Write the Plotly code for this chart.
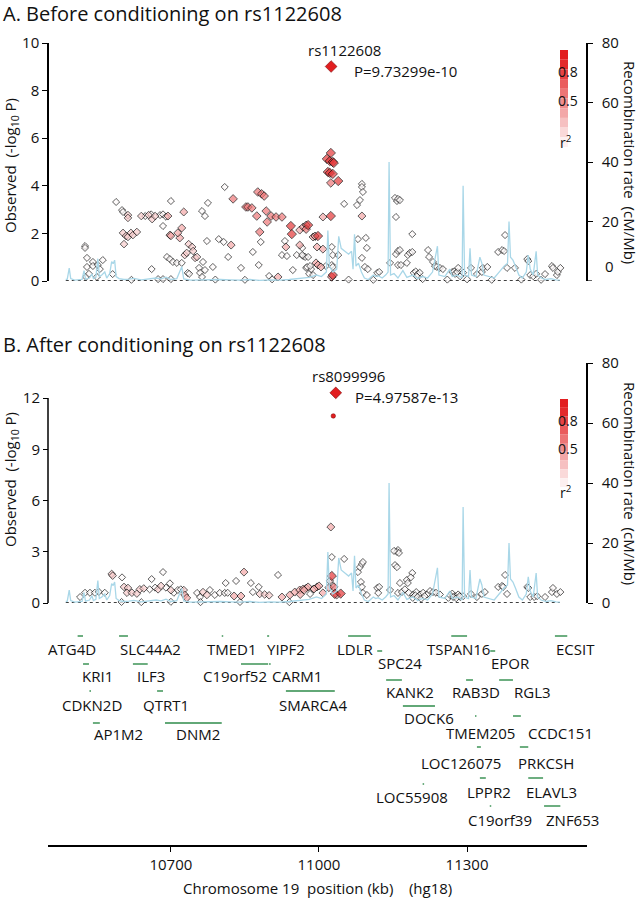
import plotly.graph_objects as go

# ---------------- DATA ----------------
# Panel A: before conditioning (position kb, -log10 P, r2)
A_pos = [10526,10526,10530,10530,10528,10534,10542,10542,10552,10550,10562,10556,10582,10589,10601,10603,10605,10613,10613,10603,
         10609,10613,10619,10623,10631,10640,10648,10655,10662,10660,10668,10678,10684,10690,10684,10700,10694,10698,10700,10718,
         10714,10722,10726,10736,10743,10745,10728,10732,10749,10753,10692,10698,10704,10712,10722,10661,10674,10684,10734,10737,
         10757,10759,10763,10769,10763,10769,10775,10773,10765,10785,10797,10807,10809,10816,10822,10826,10842,10852,10856,10864,
         10866,10874,10876,10884,10889,10880,10882,10878,10893,10895,10903,10913,10925,10899,10917,10931,10933,10925,10935,10943,
         10945,10947,10955,10966,10968,10972,10974,10978,10974,10980,10984,10988,10992,10996,10998,10994,10998,
         10961,10968,10974,10961,10966,10978,10988,10992,11008,10976,10982,11004,11014,11008,
         11024,11016,11022,11028,11030,11018,11022,11028,11024,11039,11024,11026,11028,11039,11026,11028,11028,11026,
         11051,11077,11083,11087,11087,11089,11087,11079,11095,11097,11087,11093,11099,11118,11122,11144,11154,11158,11160,11164,
         11156,11156,11160,11164,11160,11166,11189,11180,11184,11189,11178,11192,11196,11200,11204,11198,11221,11223,11231,11235,
         11239,11245,11251,11270,11274,11276,11280,11282,11286,11292,11308,11320,11330,11332,11341,11363,11371,11375,11377,11381,
         11397,11422,11424,11428,11434,11440,11458,11472,11474,11482,11484,11489,
         10620,10700,10790,10850,10905,11060,11110,11210,11260,11300,11350,11410,11450]
A_logp = [1.47,1.39,0.97,0.59,0.17,0.30,0.80,0.63,0.67,0.17,0.88,0.50,0.29,3.32,2.98,2.90,1.55,2.77,2.65,2.02,
          1.89,1.85,2.02,1.93,2.06,2.73,2.73,2.77,2.60,2.80,2.73,2.77,2.80,2.70,2.31,3.36,2.73,1.93,1.90,1.81,
          2.02,2.23,2.90,1.55,1.43,1.26,1.09,1.18,0.97,1.01,1.01,0.92,0.80,0.76,0.76,0.50,0.08,0.08,0.34,0.30,
          0.55,0.34,0.17,0.46,2.94,2.73,3.28,1.68,0.80,0.59,1.76,1.64,3.95,1.01,1.51,3.45,0.55,3.11,3.11,3.07,
          1.22,2.73,3.74,3.66,3.57,2.06,1.64,0.67,2.94,2.48,2.73,2.69,2.69,0.21,0.17,1.68,1.43,1.09,1.05,2.31,
          1.97,0.46,1.09,1.39,1.05,1.01,2.18,2.35,0.55,0.30,0.50,0.25,1.85,1.43,1.89,0.76,0.67,
          2.14,2.27,2.35,1.51,1.09,1.01,1.85,1.89,1.34,0.59,0.63,0.59,0.63,2.69,
          5.38,5.13,5.04,5.00,4.96,4.58,4.54,4.50,4.12,4.20,2.73,1.43,1.09,1.09,0.67,0.59,0.25,0.17,
          3.24,3.19,3.40,4.08,3.95,3.74,2.73,1.76,1.81,1.39,0.97,0.59,0.50,0.34,0.38,0.76,3.49,3.36,3.45,3.40,
          2.69,1.13,1.26,1.30,0.67,0.67,1.97,1.09,1.18,1.22,0.76,0.34,0.40,0.29,0.35,0.20,1.30,1.01,0.80,0.63,
          0.59,0.55,0.50,0.38,0.40,0.30,0.38,0.55,0.20,0.35,0.55,0.29,0.38,0.55,0.59,1.22,1.30,1.26,1.93,0.55,
          0.55,0.92,0.84,0.25,0.20,0.30,0.29,0.63,0.55,0.25,0.38,0.55,
          0.05,0.08,0.06,0.05,0.07,0.06,0.05,0.08,0.06,0.07,0.05,0.06,0.05]
A_r2 = [0.02,0.02,0.02,0.02,0.02,0.02,0.02,0.02,0.02,0.02,0.02,0.02,0.02,0.02,0.02,0.02,0.2,0.2,0.2,0.2,
        0.2,0.2,0.2,0.2,0.2,0.2,0.02,0.2,0.2,0.02,0.2,0.02,0.02,0.02,0.02,0.02,0.35,0.35,0.35,0.35,
        0.35,0.35,0.35,0.2,0.2,0.2,0.2,0.2,0.2,0.2,0.02,0.02,0.02,0.02,0.02,0.02,0.02,0.02,0.02,0.02,
        0.02,0.02,0.02,0.02,0.02,0.02,0.02,0.02,0.02,0.02,0.02,0.02,0.02,0.02,0.35,0.55,0.02,0.55,0.55,0.55,
        0.02,0.55,0.55,0.55,0.55,0.55,0.02,0.02,0.55,0.55,0.55,0.55,0.55,0.02,0.35,0.02,0.35,0.02,0.02,0.8,
        0.8,0.02,0.02,0.02,0.02,0.02,0.55,0.8,0.02,0.02,0.02,0.02,0.02,0.35,0.8,0.35,0.35,
        0.35,0.35,0.35,0.35,0.02,0.02,0.35,0.35,0.35,0.02,0.02,0.35,0.02,0.35,
        0.8,0.8,0.8,0.8,0.8,0.8,0.8,0.8,0.55,0.8,0.8,0.02,0.02,0.02,0.02,0.02,0.8,0.55,
        0.02,0.02,0.02,0.02,0.02,0.02,0.35,0.02,0.02,0.02,0.02,0.02,0.02,0.02,0.02,0.02,0.02,0.02,0.02,0.02,
        0.02,0.02,0.02,0.02,0.02,0.02,0.02,0.02,0.02,0.02,0.02,0.02,0.02,0.02,0.02,0.02,0.02,0.02,0.02,0.02,
        0.02,0.02,0.02,0.02,0.02,0.02,0.02,0.02,0.02,0.02,0.02,0.02,0.02,0.02,0.02,0.02,0.02,0.02,0.02,0.02,
        0.02,0.02,0.02,0.02,0.02,0.02,0.02,0.02,0.02,0.02,0.02,0.02,
        0.02,0.02,0.02,0.02,0.02,0.02,0.02,0.02,0.02,0.02,0.02,0.02,0.02]

# Panel B: after conditioning
B_pos = [10516,10526,10536,10546,10554,10566,10580,10582,10601,10605,10613,10611,10621,10631,10637,10645,10657,10661,10668,10674,
         10684,10680,10690,10698,10700,10706,10714,10720,10726,10728,10732,10753,10759,10765,10773,10779,10789,10799,10809,10815,
         10811,10832,10828,10842,10848,10862,10866,10878,10880,10890,10899,10917,10925,10941,10951,10961,10968,10974,10978,10988,
         10996,10962,10970,10982,10990,11000,11008,11020,11024,11026,11026,11022,11026,11030,11032,11036,11044,
         11051,11079,11083,11087,11089,11085,11087,11089,11097,11118,11122,11120,11144,11154,11158,11160,11158,11162,11152,11164,
         11160,11168,11178,11180,11189,11186,11174,11182,11191,11197,11205,11211,11219,11225,11231,11237,11245,11270,11276,11282,
         11286,11292,11308,11320,11330,11336,11363,11371,11377,11373,11381,11422,11424,11428,11436,11442,11458,11472,11474,11482,11489,
         11190,11195,11200,11207,11214,11262,11266,11272,11278,11285,10600,10640,10700,10760,10840,10940]
B_logp = [0.35,0.60,0.60,0.60,0.65,0.60,1.70,1.60,1.50,0.94,0.88,0.60,0.60,0.55,0.80,0.85,0.80,1.40,0.90,0.80,
          1.81,1.00,0.90,1.15,0.75,0.60,0.76,0.80,0.76,0.47,0.30,0.59,0.35,0.64,0.47,0.76,0.47,0.59,0.59,0.60,
          1.17,1.29,0.41,0.41,1.81,1.17,0.64,0.94,0.53,0.50,0.45,1.64,0.35,0.47,0.64,0.76,0.82,0.88,0.94,0.82,
          0.94,0.50,0.75,0.53,0.82,1.00,0.59,0.90,4.45,2.69,1.58,1.29,1.05,0.94,0.53,0.47,0.55,
          2.58,1.81,2.10,2.28,2.40,1.23,0.94,0.59,0.47,0.88,0.94,0.59,0.76,2.22,2.10,3.10,2.99,2.93,3.05,1.17,
          0.59,0.64,1.35,1.17,1.76,1.50,0.80,0.60,0.50,0.64,0.50,0.60,0.50,0.70,0.64,0.60,0.50,0.55,0.40,0.50,
          0.35,0.40,0.53,0.35,0.53,0.64,0.94,1.00,1.64,0.94,0.53,0.94,0.88,0.35,0.35,0.40,0.35,0.64,0.88,0.53,0.64,
          0.30,0.45,0.35,0.25,0.40,0.30,0.45,0.35,0.28,0.40,0.06,0.05,0.07,0.05,0.06,0.05]
B_r2 = [0.02,0.02,0.02,0.02,0.02,0.02,0.2,0.2,0.02,0.2,0.2,0.2,0.2,0.2,0.2,0.2,0.02,0.02,0.02,0.2,
        0.02,0.2,0.02,0.02,0.2,0.02,0.02,0.02,0.2,0.35,0.35,0.02,0.02,0.2,0.2,0.02,0.02,0.02,0.02,0.02,
        0.02,0.02,0.35,0.35,0.35,0.02,0.02,0.02,0.2,0.2,0.2,0.02,0.35,0.35,0.35,0.35,0.35,0.2,0.35,0.02,
        0.35,0.35,0.35,0.02,0.35,0.35,0.35,0.35,0.35,0.02,0.8,0.2,0.02,0.55,0.8,0.35,0.8,
        0.02,0.02,0.02,0.02,0.02,0.02,0.02,0.02,0.02,0.02,0.02,0.02,0.02,0.02,0.02,0.02,0.02,0.02,0.02,0.02,
        0.02,0.02,0.02,0.02,0.02,0.02,0.02,0.02,0.02,0.02,0.02,0.02,0.02,0.02,0.02,0.02,0.02,0.02,0.02,0.02,
        0.02,0.02,0.02,0.02,0.02,0.02,0.02,0.02,0.02,0.02,0.02,0.02,0.02,0.02,0.02,0.02,0.02,0.02,0.02,0.02,0.02,
        0.02,0.02,0.02,0.02,0.02,0.02,0.02,0.02,0.02,0.02,0.02,0.02,0.02,0.02,0.02,0.02]

# Index SNPs
A_index = dict(name="rs1122608", pos=11024.6, logp=9.012, ptext="P=9.73299e-10")
B_index = dict(name="rs8099996", pos=11034, logp=12.303, ptext="P=4.97587e-13")
B_extra = dict(pos=11029, logp=10.95, r2=0.9)

# Recombination rate (cM/Mb)
rec_pos = [10487,10490,10494,10497,10505,10512,10520,10524,10527,10535,10540,10543,10548,10552,10555,10560,10566,10570,10576,10580,
           10583,10586,10589,10595,10605,10615,10625,10640,10655,10670,10680,10690,10700,10712,10722,10726,10740,10760,10780,10800,
           10820,10840,10860,10880,10900,10920,10940,10960,10980,10995,11005,11015,11018,11021,11028,11036,11040,11045,11052,11060,
           11066,11069,11072,11075,11080,11086,11092,11100,11110,11115,11120,11128,11135,11140,11142,11145,11152,11160,11170,11178,
           11190,11200,11210,11220,11230,11240,11243,11255,11265,11270,11280,11290,11292,11295,11303,11306,11309,11318,11326,11330,
           11334,11345,11355,11365,11375,11382,11385,11388,11393,11398,11405,11412,11420,11424,11428,11434,11440,11443,11450,11460,
           11470,11480,11488]
rec_rate = [0.5,0.6,4.3,0.8,0.3,0.4,0.5,3.5,0.6,1.0,2.4,0.8,1.2,7.5,1.5,2.0,3.0,1.0,2.5,6.5,
            5.8,7.0,1.5,0.8,0.5,0.6,0.9,0.4,0.6,1.0,0.7,1.3,0.5,0.8,4.8,0.7,0.3,0.4,0.3,0.5,
            0.4,0.3,0.5,0.2,0.4,0.3,0.5,0.8,1.2,2.0,1.5,3.0,17.0,5.0,3.0,4.0,15.0,11.0,10.0,9.0,
            10.0,4.0,15.7,5.0,6.0,3.0,1.0,0.5,2.0,1.5,1.8,1.0,2.0,3.0,40.0,2.0,2.5,1.0,3.5,1.2,
            2.0,0.8,1.5,1.0,3.0,11.7,2.0,1.5,4.0,1.5,2.0,1.0,32.0,2.0,1.5,11.0,2.0,1.5,8.0,6.0,
            2.0,1.5,1.0,3.0,5.0,6.0,20.0,8.0,7.0,5.0,2.0,1.0,3.0,8.7,4.0,2.0,10.0,2.0,1.0,0.5,
            0.8,0.4,0.3]

# Genes: name, start (kb), end (kb), label centre (kb), track row
gene_name = ["ATG4D","SLC44A2","TMED1","YIPF2","LDLR","TSPAN16","ECSIT","SPC24","EPOR",
             "KRI1","ILF3","C19orf52","CARM1","KANK2","RAB3D","RGL3","CDKN2D","QTRT1","SMARCA4",
             "DOCK6","TMEM205","CCDC151","AP1M2","DNM2","LOC126075","PRKCSH","LPPR2","ELAVL3",
             "LOC55908","C19orf39","ZNF653"]
gene_start = [10511,10595,10803,10895,11059,11268,11478,11118,11347,
              10522,10623,10842,10899,11136,11298,11365,10535,10672,10933,
              11170,11316,11393,10542,10688,11320,11407,11326,11424,
              11210,11346,11456]
gene_end = [10522,10613,10806,10899,11105,11300,11503,11128,11357,
            10534,10653,10897,10902,11168,11312,11393,10538,10684,11032,
            11235,11319,11409,10556,10803,11328,11424,11338,11454,
            11213,11349,11489]
gene_label = [10499,10659,10824,10933,11073,11282,11519,11164,11389,
              10552,10659,10830,10955,11184,11318,11432,10540,10690,10988,
              11223,11328,11490,10593,10755,11288,11460,11345,11472,
              11189,11367,11513]
gene_row = [0,0,0,0,0,0,0,1,1,
            2,2,2,2,3,3,3,4,4,4,
            5,6,6,7,7,8,8,9,9,
            10,11,11]

xticks = [10700, 11000, 11300]
xtick_text = ["10700", "11000", "11300"]

# ---------------- LAYOUT HELPERS (page pixel -> paper) ----------------
FW, FH = 641, 900
def fx(p): return p / FW
def fy(p): return 1 - p / FH

FONT = "Open Sans"
XL, XR = 48, 587           # axis x positions
A_TOP, A_BOT = 43, 281
B_TOP, B_BOT, B_RTOP = 398, 603, 363
G_TOP, G_BOT = 625, 845
row_line_y = [636, 651, 664, 680, 691, 706, 716, 723, 747, 778, 784, 806]
row_label_y = [649, 663, 676, 692, 705, 718, 733, 734, 763, 792, 797, 820]

RED = (226, 30, 32)
CMAX = 0.9
def r2col(v):
    t = min(v / CMAX, 1)
    r = int(255 + (RED[0]-255)*t); g = int(255 + (RED[1]-255)*t); b = int(255 + (RED[2]-255)*t)
    return f"rgb({r},{g},{b})"
CSCALE = [[0, "rgb(255,255,255)"], [1, f"rgb{RED}"]]
REC_COL = "#a9d7e8"

fig = go.Figure()

def add_panel(pos, logp, r2, yax, recax):
    fig.add_trace(go.Scatter(x=rec_pos, y=rec_rate, mode="lines", xaxis="x", yaxis=recax,
                             line=dict(color=REC_COL, width=1.3), hoverinfo="skip", showlegend=False))
    fig.add_trace(go.Scatter(x=[min(rec_pos), max(rec_pos)], y=[0, 0], mode="lines", xaxis="x", yaxis=yax,
                             line=dict(color="black", width=1.3, dash="dot"), showlegend=False))
    order = sorted(range(len(pos)), key=lambda i: r2[i])
    xs = [pos[i] for i in order]; ys = [logp[i] for i in order]; cs = [r2[i] for i in order]
    fig.add_trace(go.Scatter(x=xs, y=ys, mode="markers", xaxis="x", yaxis=yax, cliponaxis=False,
                             marker=dict(symbol="diamond", size=[5.4 + 2.2*c for c in cs], color=cs,
                                         colorscale=CSCALE, cmin=0, cmax=CMAX,
                                         line=dict(color="black", width=0.9)),
                             showlegend=False))

add_panel(A_pos, A_logp, A_r2, "y", "y2")
add_panel(B_pos, B_logp, B_r2, "y3", "y4")

# index SNPs
fig.add_trace(go.Scatter(x=[A_index["pos"]], y=[A_index["logp"]], mode="markers", xaxis="x", yaxis="y",
                         cliponaxis=False, marker=dict(symbol="diamond", size=9, color=f"rgb{RED}",
                         line=dict(color="#7a0000", width=0.6)), showlegend=False))
fig.add_trace(go.Scatter(x=[B_extra["pos"]], y=[B_extra["logp"]], mode="markers", xaxis="x", yaxis="y3",
                         cliponaxis=False, marker=dict(symbol="circle", size=4.5, color=f"rgb{RED}",
                         line=dict(color="#7a0000", width=0.5)), showlegend=False))
fig.add_trace(go.Scatter(x=[B_index["pos"]], y=[B_index["logp"]], mode="markers", xaxis="x", yaxis="y3",
                         cliponaxis=False, marker=dict(symbol="diamond", size=9, color=f"rgb{RED}",
                         line=dict(color="#7a0000", width=0.6)), showlegend=False))

# gene track (invisible helper trace so the axis exists)
fig.add_trace(go.Scatter(x=[gene_start[0]], y=[G_BOT], mode="markers", xaxis="x", yaxis="y5",
                         marker=dict(opacity=0), hoverinfo="skip", showlegend=False))

shapes = []
annotations = []
for n, s, e, lc, r in zip(gene_name, gene_start, gene_end, gene_label, gene_row):
    shapes.append(dict(type="line", xref="x", yref="y5", x0=s, x1=e, y0=row_line_y[r], y1=row_line_y[r],
                       line=dict(color="#2e8b4a", width=1.4)))
    annotations.append(dict(x=lc, y=row_label_y[r], xref="x", yref="y5", text=n, showarrow=False,
                            xanchor="center", yanchor="middle", font=dict(family=FONT, size=15, color="#111")))

axis_common = dict(showgrid=False, zeroline=False, showline=True, linecolor="black", linewidth=1.5,
                   ticks="outside", ticklen=5, tickwidth=1.2, tickcolor="black", automargin=False,
                   tickfont=dict(family=FONT, size=15, color="#111"))

# panel B left axis spans 0..12 but shares the pixel scale of a taller frame
B_LEFT_MAX = 12 * (B_BOT - B_RTOP) / (B_BOT - B_TOP)
axis_B_left = dict(axis_common); axis_B_left["showline"] = False

fig.update_layout(
    width=FW, height=FH, margin=dict(l=0, r=0, t=0, b=0, pad=0, autoexpand=False),
    paper_bgcolor="white", plot_bgcolor="rgba(0,0,0,0)", showlegend=False,
    xaxis=dict(domain=[fx(XL), fx(XR)], range=[10451, 11543], anchor="y5",
               tickvals=xticks, ticktext=xtick_text, **axis_common),
    yaxis=dict(domain=[fy(A_BOT), fy(A_TOP)], range=[0, 10], anchor="free", position=fx(XL),
               tickvals=[0, 2, 4, 6, 8, 10], **axis_common),
    yaxis2=dict(domain=[fy(A_BOT), fy(A_TOP)], range=[0, 80], anchor="free", position=fx(XR), side="right",
                tickvals=[20, 40, 60, 80], ticklabelstandoff=6, **axis_common),
    yaxis3=dict(domain=[fy(B_BOT), fy(B_RTOP)], range=[0, B_LEFT_MAX], anchor="free", position=fx(XL),
                tickvals=[0, 3, 6, 9, 12], **axis_B_left),
    yaxis4=dict(domain=[fy(B_BOT), fy(B_RTOP)], range=[0, 80], anchor="free", position=fx(XR), side="right",
                tickvals=[0, 20, 40, 60, 80], ticklabelstandoff=6, **axis_common),
    yaxis5=dict(domain=[fy(G_BOT), fy(G_TOP)], range=[G_BOT, G_TOP], anchor="free", position=fx(XL),
                visible=False, showgrid=False, zeroline=False, automargin=False),
)

# left axis line of panel B (0..12 only) and the 0 tick of panel A right axis
shapes.append(dict(type="line", xref="paper", yref="y3", x0=fx(XL), x1=fx(XL), y0=0, y1=12,
                   line=dict(color="black", width=1.5)))
shapes.append(dict(type="line", xref="paper", yref="y2", x0=fx(XR), x1=fx(XR + 5), y0=0, y1=0,
                   line=dict(color="black", width=1.2)))

def ann(text, x, y, size=15, xanchor="left", angle=0, yanchor="middle"):
    annotations.append(dict(text=text, x=fx(x), y=fy(y), xref="paper", yref="paper", showarrow=False,
                            xanchor=xanchor, yanchor=yanchor, textangle=angle,
                            font=dict(family=FONT, size=size, color="#111")))

ann("A. Before conditioning on rs1122608", 1, 14, size=20)
ann("B. After conditioning on rs1122608", 1, 344, size=20)
ann("Observed  (-log<sub>10</sub> P)", 11, 166, angle=-90, xanchor="center")
ann("Observed  (-log<sub>10</sub> P)", 11, 480, angle=-90, xanchor="center")
ann("Recombination rate  (cM/Mb)", 630, 162, angle=90, xanchor="center")
ann("Recombination rate  (cM/Mb)", 630, 483, angle=90, xanchor="center")
ann("0", 603, 266)
ann("Chromosome 19  position (kb)    (hg18)", 317, 888, xanchor="center")
ann(A_index["name"], 344, 50, xanchor="center")
ann(A_index["ptext"], 352, 71)
ann(B_index["name"], 348, 376, xanchor="center")
ann(B_index["ptext"], 353, 397)

# r2 colour keys
def colour_key(top, bot, lab8, lab5, labr):
    n = 10
    h = (bot - top) / n
    for i in range(n):
        v = 1 - (i + 0.5) / n
        shapes.append(dict(type="rect", xref="paper", yref="paper", x0=fx(560), x1=fx(568),
                           y0=fy(top + (i + 1) * h), y1=fy(top + i * h),
                           fillcolor=r2col(max(v, 0.06)), line=dict(width=0)))
    ann("0.8", 568, lab8, size=14, xanchor="center")
    ann("0.5", 568, lab5, size=14, xanchor="center")
    ann("r<sup>2</sup>", 566, labr, size=14, xanchor="center")

colour_key(50, 147, 72, 100, 142)
colour_key(399, 487, 420, 448, 492)

fig.update_layout(shapes=shapes, annotations=annotations)
fig.write_html("out.html", config={"displayModeBar": False},
               post_script="document.body.style.margin='0';document.body.style.overflow='hidden';")
